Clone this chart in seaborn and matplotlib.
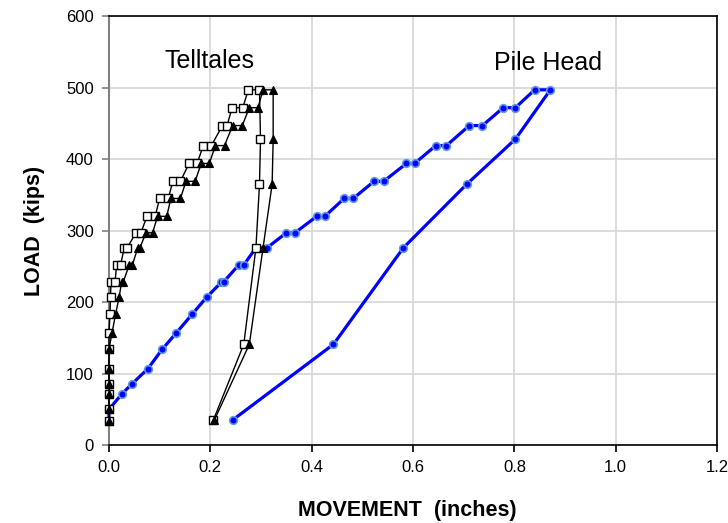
import matplotlib
matplotlib.use("Agg")
import matplotlib.pyplot as plt
import seaborn as sns
import pandas as pd

# Load sequence: loading steps (two readings per hold from 228 kips up), then unloading
loads_up = [34, 50, 72, 86, 107, 134, 157, 183, 207, 228, 228, 252, 252, 276, 276,
            297, 297, 320, 320, 345, 345, 369, 369, 394, 394, 419, 419, 447, 447,
            472, 472, 497, 497]
loads_down = [428, 365, 276, 141, 35]

# Pile head movement (inches)
pile_up = [0.0, 0.0, 0.026, 0.046, 0.077, 0.105, 0.133, 0.164, 0.193, 0.222, 0.226,
           0.256, 0.266, 0.290, 0.312, 0.350, 0.367, 0.410, 0.426, 0.464, 0.482,
           0.523, 0.542, 0.587, 0.603, 0.645, 0.666, 0.711, 0.737, 0.778, 0.802,
           0.840, 0.871]
pile_down = [0.802, 0.706, 0.581, 0.443, 0.244]

# Telltale A (open squares)
tell_a_up = [0.0, 0.0, 0.0, 0.0, 0.0, 0.0, 0.0, 0.002, 0.003, 0.004, 0.012, 0.015,
             0.023, 0.030, 0.036, 0.053, 0.063, 0.075, 0.091, 0.100, 0.117, 0.126,
             0.141, 0.158, 0.174, 0.186, 0.202, 0.224, 0.233, 0.243, 0.264, 0.275,
             0.297]
tell_a_down = [0.299, 0.297, 0.290, 0.266, 0.206]

# Telltale B (filled triangles)
tell_b_up = [0.0, 0.0, 0.0, 0.0, 0.0, 0.0, 0.006, 0.013, 0.020, 0.025, 0.028, 0.040,
             0.046, 0.057, 0.061, 0.073, 0.086, 0.096, 0.114, 0.122, 0.141, 0.152,
             0.170, 0.182, 0.198, 0.210, 0.228, 0.244, 0.263, 0.277, 0.294, 0.304,
             0.324]
tell_b_down = [0.324, 0.322, 0.304, 0.277, 0.208]

x_ticks = [0.0, 0.2, 0.4, 0.6, 0.8, 1.0, 1.2]
y_ticks = [0, 100, 200, 300, 400, 500, 600]

loads = loads_up + loads_down
df = pd.DataFrame({
    "load": loads,
    "pile": pile_up + pile_down,
    "tell_a": tell_a_up + tell_a_down,
    "tell_b": tell_b_up + tell_b_down,
})

sns.set_theme(style="whitegrid")
plt.rcParams["font.family"] = ["Liberation Sans", "DejaVu Sans"]
plt.rcParams["text.color"] = "black"
plt.rcParams["axes.labelcolor"] = "black"
plt.rcParams["xtick.color"] = "black"
plt.rcParams["ytick.color"] = "black"

fig = plt.figure(figsize=(7.28, 5.23), dpi=100)
ax = fig.add_axes([0.1497, 0.149, 0.8353, 0.820])

sns.lineplot(data=df, x="pile", y="load", sort=False, estimator=None, ax=ax,
             color="#0000FF", linewidth=2.3, marker="o", markersize=5.5,
             markerfacecolor="#0000FF", markeredgecolor="#5B9BE6",
             markeredgewidth=1.2, zorder=3, clip_on=False)
sns.lineplot(data=df, x="tell_a", y="load", sort=False, estimator=None, ax=ax,
             color="black", linewidth=1.0, marker="s", markersize=5.2,
             markerfacecolor="white", markeredgecolor="black",
             markeredgewidth=1.0, zorder=4, clip_on=False)
sns.lineplot(data=df, x="tell_b", y="load", sort=False, estimator=None, ax=ax,
             color="black", linewidth=1.0, marker="^", markersize=5.5,
             markerfacecolor="black", markeredgecolor="black",
             markeredgewidth=0.8, zorder=5, clip_on=False)

ax.set_xlim(0, 1.2)
ax.set_ylim(0, 600)
ax.set_xticks(x_ticks)
ax.set_xticklabels([f"{t:.1f}" for t in x_ticks])
ax.set_yticks(y_ticks)
ax.set_yticklabels([str(t) for t in y_ticks])

ax.grid(True, color="#d9d9d9", linewidth=1.3)
ax.set_axisbelow(True)
ax.set_facecolor("white")

for side in ["top", "right", "bottom"]:
    ax.spines[side].set_color("black")
    ax.spines[side].set_linewidth(1.2)
ax.spines["left"].set_color("#808080")
ax.spines["left"].set_linewidth(1.5)

ax.tick_params(axis="x", direction="out", length=5, width=1.2, color="black",
               labelcolor="black", labelsize=12, pad=6, bottom=True)
ax.tick_params(axis="y", direction="out", length=5, width=1.2, color="#808080",
               labelcolor="black", labelsize=12, pad=6, left=True)

ax.set_xlabel("MOVEMENT  (inches)", fontsize=15.5, fontweight="bold",
              color="black")
ax.set_ylabel("LOAD  (kips)", fontsize=15.5, fontweight="bold", labelpad=15,
              color="black")
ax.xaxis.set_label_coords(0.490, -0.127)

ax.text(0.198, 538, "Telltales", fontsize=18, ha="center", va="center", color="black")
ax.text(0.867, 534, "Pile Head", fontsize=18, ha="center", va="center", color="black")

fig.savefig("out.png", dpi=100, facecolor="white")
